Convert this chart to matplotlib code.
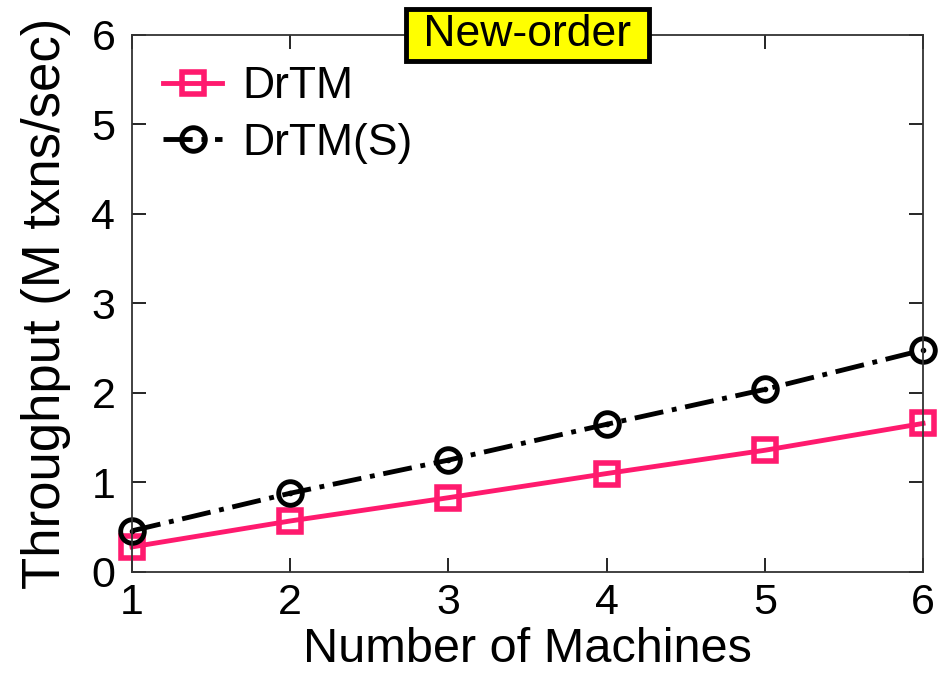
import numpy as np
import matplotlib.pyplot as plt

plt.rcParams['font.family'] = ['Liberation Sans', 'DejaVu Sans']

machines = [1, 2, 3, 4, 5, 6]
drtm = [0.28, 0.57, 0.83, 1.10, 1.36, 1.66]
drtm_s = [0.46, 0.88, 1.25, 1.65, 2.04, 2.48]

fig = plt.figure(figsize=(9.41, 6.73), dpi=100)
ax = fig.add_axes([0.1403, 0.1501, 0.8406, 0.7979])

ax.plot(machines, drtm, color='#ff1a6e', lw=3.5, marker='s', ms=16, mfc='none', mew=4,
        label='DrTM', clip_on=False)
ax.plot(machines, drtm_s, color='black', lw=3.5, ls=(0, (6, 1.8, 1, 1.8)), marker='o', ms=17,
        mfc='none', mew=3.5, label='DrTM(S)', clip_on=False)
# точки в центре кружков
ax.plot(machines, drtm_s, ls='none', marker='.', color='black', ms=6, clip_on=False)

ax.set_xlim(1, 6)
ax.set_ylim(0, 6)
ax.set_xticks(machines)
ax.set_yticks(range(0, 7))
ax.tick_params(direction='in', length=10, width=1.2, top=True, right=True,
               labelsize=31)
ax.tick_params(axis='x', pad=8)
ax.tick_params(axis='y', pad=12)
for s in ax.spines.values():
    s.set_linewidth(1.3)
    s.set_color('#333333')
ax.set_xlabel('Number of Machines', fontsize=35, labelpad=3)
ax.set_ylabel('Throughput (M txns/sec)', fontsize=38, labelpad=15)

ax.legend(loc='upper left', frameon=False, fontsize=32, handlelength=1.33,
          handletextpad=0.45, borderaxespad=0.2, labelspacing=0.35, borderpad=0.5)

ax.text(0.5, 1.0, ' New-order ', transform=ax.transAxes, ha='center', va='center',
        fontsize=32, bbox=dict(boxstyle='square,pad=0.12', fc='yellow', ec='black', lw=3.5))

fig.savefig('out.png', dpi=100)
